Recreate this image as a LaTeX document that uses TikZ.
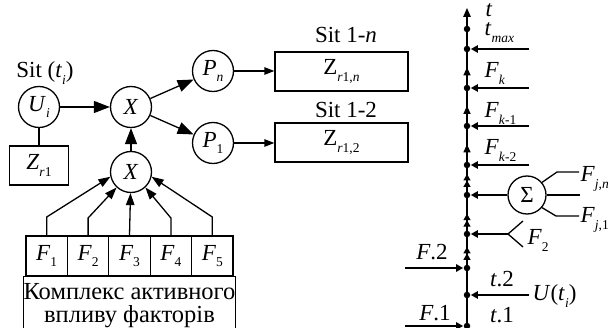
\documentclass[tikz,border=0pt]{standalone}
\usepackage{fontspec}
\setmainfont{Liberation Serif}
\usetikzlibrary{arrows.meta,decorations.markings}
\newcommand\sbs[1]{\raisebox{-0.28em}{\fontsize{13.5}{14}\selectfont #1}}
\begin{document}
\begin{tikzpicture}[x=1pt,y=-1pt,line width=1.3pt,
  font=\fontsize{23}{26}\selectfont,
  circ/.style={circle,draw,minimum size=41pt,inner sep=0pt},
  box/.style={draw,rectangle,inner sep=0pt},
  bigarr/.style={-{Triangle[length=16pt,width=12pt]}},
  midarr/.style={-{Triangle[length=12pt,width=8.5pt]}},
  smallarr/.style={-{Triangle[length=10pt,width=7.5pt]}},
  harr/.style={-{Triangle[length=7pt,width=7.5pt]}},
  dotn/.style={circle,fill,inner sep=0pt,minimum size=6.5pt},
  lbl/.style={inner sep=0pt},
  uparr/.style={postaction={decorate},decoration={markings,
     mark=at position #1 with {\arrow{Triangle[length=8pt,width=7pt]}}}},
  uparrr/.style={postaction={decorate},decoration={markings,
     mark=at position #1 with {\arrow{Triangle[length=6.5pt,width=7pt] Triangle[length=6.5pt,width=7pt]}}}}]
\useasboundingbox (0,0) rectangle (610,328);

% ---------- left part ----------
\node (sit) at (45,73) {Sit (\textit{t}\sbs{\textit{i}})};
\node[circ] (U) at (39,107) {\textit{U}\sbs{\textit{i}}};
\node[box,minimum width=59pt,minimum height=39pt] (Zr1) at (39,165.5) {\textit{Z}\sbs{\textit{r}1}};
\node[circ] (X) at (131,107) {\textit{X}};
\node[circ] (X2) at (131,172) {\textit{X}};
\node[circ] (Pn) at (213,71) {\textit{P}\sbs{\textit{n}}};
\node[circ] (P1) at (213,143) {\textit{P}\sbs{1}};
\node[box,minimum width=133pt,minimum height=39pt] (Zn) at (341.5,71.5) {Z\sbs{\textit{r}1,\textit{n}}};
\node[box,minimum width=133pt,minimum height=39pt] (Z2) at (341.5,142.5) {Z\sbs{\textit{r}1,2}};
\node (sitn) at (346,35) {Sit 1-\textit{n}};
\node (sit2) at (346,110) {Sit 1-2};

\draw (U) -- (Zr1);
\draw[bigarr] (U) -- (X);
\draw[bigarr] (X) -- (Pn);
\draw[bigarr] (X) -- (P1);
\draw[bigarr] (X2) -- (X);
\draw[smallarr] (Pn) -- (Pn -| Zn.west);
\draw[smallarr] (P1) -- (P1 -| Z2.west);

\foreach \i/\x in {1/46.7,2/88.1,3/129.5,4/170.9,5/212.3}
  \node[box,minimum width=41.4pt,minimum height=40pt] (F\i) at (\x,256) {\textit{F}\sbs{\i}};
\node[box,minimum width=207pt,minimum height=57pt,anchor=north,align=center,
      font=\fontsize{24.5}{23}\selectfont] (kompl) at (129.5,276)
      {Комплекс активного\\впливу факторів};

\draw[midarr] (F1.north) -- (F1.north |- 0,217) -- (X2.193);
\draw[midarr] (F2.north) -- (F2.north |- 0,218) -- (X2.227);
\draw[midarr] (F3.north) -- (X2);
\draw[midarr] (F4.north) -- (F4.north |- 0,218) -- (X2.313);
\draw[midarr] (F5.north) -- (F5.north |- 0,217) -- (X2.347);

% ---------- time line ----------
\foreach \n/\y in {0/326,1/295,2/268,3/234,4/195,5/165,6/126,7/88,8/49,9/29}
  \node[dotn] (d\n) at (467,\y) {};
\coordinate (top) at (467,8);

\draw (d0.center) -- (d1.center);
\draw (d1.center) -- (d2.center);
\draw[uparrr=0.62] (d2.center) -- (d3.center);
\draw[uparrr=0.52] (d3.center) -- (d4.center);
\draw[uparrr=0.7] (d4.center) -- (d5.center);
\draw[uparr=0.53] (d5.center) -- (d6.center);
\draw[uparr=0.53] (d6.center) -- (d7.center);
\draw[uparr=0.53] (d7.center) -- (d8.center);
\draw (d8.center) -- (d9.center);
\draw[-{Triangle[length=9pt,width=7.5pt]}] (d9.center) -- (top);

\foreach \n/\y in {8/49,7/88,6/126,5/165,1/295}{
  \coordinate (h\n) at (529,\y);
  \draw[harr] (h\n) -- (d\n);
}

\node[circ,minimum size=38pt] (S) at (527,195) {Σ};
\draw[harr] (S) -- (d4);
\coordinate (sa) at (557,172);
\coordinate (sb) at (579,172);
\coordinate (sc) at (580,195);
\coordinate (sd) at (556,216);
\coordinate (se) at (579,216);
\draw (S.40) -- (sa) -- (sb);
\draw (S.east) -- (sc);
\draw (S.-40) -- (sd) -- (se);

\coordinate (f2) at (508,234);
\coordinate (f2a) at (523,221);
\coordinate (f2b) at (523,247);
\draw[harr] (f2) -- (d3);
\draw (f2a) -- (f2) -- (f2b);

\coordinate (lf2) at (405,268);
\coordinate (lf1) at (405,326);
\draw[harr] (lf2) -- (d2);
\draw[harr] (lf1) -- (d0);

% labels
\node[lbl,anchor=base west] (lt) at (485,17) {\textit{t}};
\node[lbl,anchor=base west] (ltm) at (484,36) {\textit{t}\sbs{\textit{max}}};
\node[lbl,anchor=base west] (lfk) at (484,78) {\textit{F}\sbs{\textit{k}}};
\node[lbl,anchor=base west] (lfk1) at (484,118) {\textit{F}\sbs{\textit{k}-1}};
\node[lbl,anchor=base west] (lfk2) at (484,155) {\textit{F}\sbs{\textit{k}-2}};
\node[lbl,anchor=base west] (lfjn) at (580,182) {\textit{F}\sbs{\textit{j},\textit{n}}};
\node[lbl,anchor=base west] (lfj1) at (580,223) {\textit{F}\sbs{\textit{j},1}};
\node[lbl,anchor=base west] (lf2l) at (527,245) {\textit{F}\sbs{2}};
\node[lbl,anchor=base] (lF2) at (432,260) {\textit{F}.2};
\node[lbl,anchor=base] (lF1) at (435,320) {\textit{F}.1};
\node[lbl,anchor=base] (lt2) at (502,287) {\textit{t}.2};
\node[lbl,anchor=base] (lt1) at (502,323) {\textit{t}.1};
\node[lbl,anchor=base west] (lU) at (532,301) {\textit{U}(\textit{t}\sbs{\textit{i}})};
\end{tikzpicture}
\end{document}
